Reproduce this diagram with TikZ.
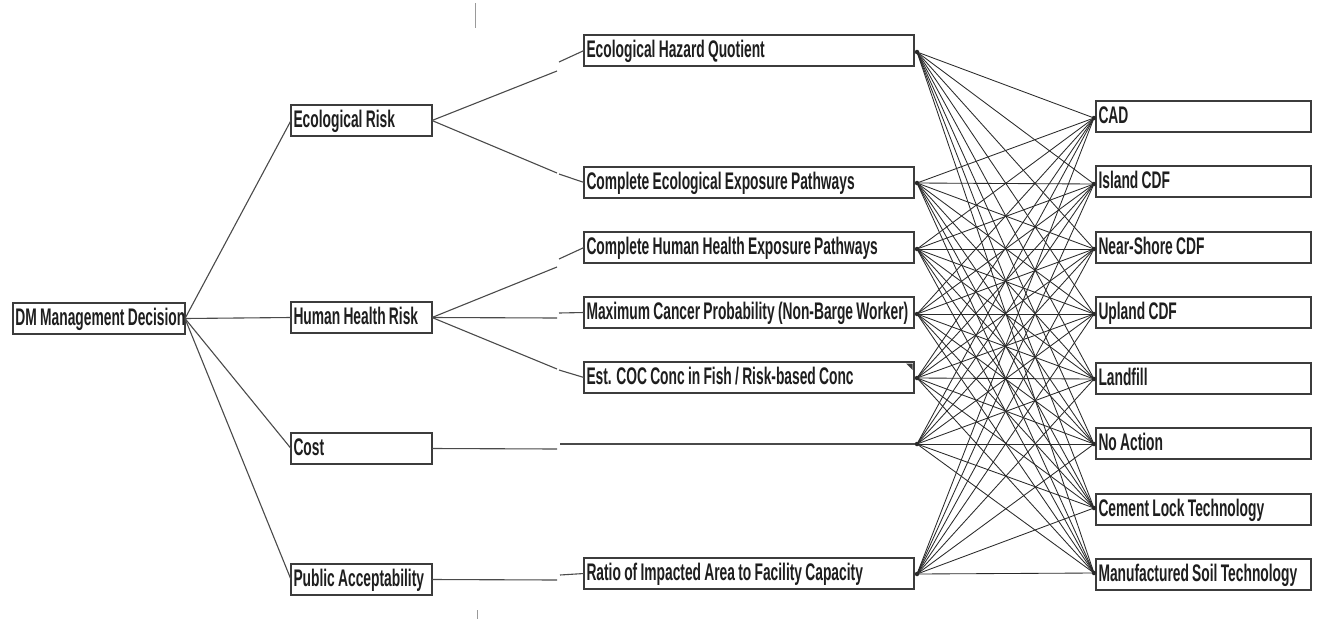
\documentclass[tikz,border=0pt]{standalone}
\usepackage{fontspec}
\newfontfamily\labfont{Liberation Sans}[FakeStretch=0.575,WordSpace=0.85]
\definecolor{boxline}{HTML}{3C3C3C}
\definecolor{labtext}{HTML}{1E1E1E}
\definecolor{linkcol}{HTML}{4A4A4A}
\definecolor{fancol}{HTML}{2A2A2A}
\definecolor{guidecol}{HTML}{9A9A9A}
\begin{document}
\begin{tikzpicture}[x=1pt,y=-1pt,
  box/.style={draw=boxline, line width=1.5pt, rectangle, anchor=north west,
    outer sep=0pt, inner xsep=2.5pt, inner ysep=4pt,
    text height=18.5pt, text depth=4.5pt, text=labtext,
    font=\labfont\bfseries\fontsize{24pt}{27pt}\selectfont},
  % label set on one line, left aligned, in a box of fixed width
  boxwidth/.style={box,
    execute at begin node={\hbox to #1\bgroup},
    execute at end node={\hss\egroup}},
  rootbox/.style={boxwidth=167pt},
  critbox/.style={boxwidth=136pt},
  subbox/.style={boxwidth=325pt},
  altbox/.style={boxwidth=210pt},
  link/.style={draw=linkcol, line width=1.1pt},
  fan/.style={draw=fancol, line width=0.85pt},
  dot/.style={circle, fill=fancol, inner sep=0pt, minimum size=4.5pt},
  guide/.style={draw=guidecol, line width=1pt}
]
\useasboundingbox (0,0) rectangle (1317,619);
\fill[white] (0,0) rectangle (1317,619);

% root
\node[rootbox] (dm) at (13,303) {DM Management Decision};

% criteria
\node[critbox] (eco)  at (291,105) {Ecological Risk};
\node[critbox] (hh)   at (291,302) {Human Health Risk};
\node[critbox] (cost) at (291,433) {Cost};
\node[critbox] (pub)  at (291,564) {Public Acceptability};

% sub-criteria
\node[subbox] (ehq)   at (584,35)  {Ecological Hazard Quotient};
\node[subbox] (ceep)  at (584,167) {Complete Ecological Exposure Pathways};
\node[subbox] (chhep) at (584,232) {Complete Human Health Exposure Pathways};
\node[subbox] (mcp)   at (584,297) {Maximum Cancer Probability (Non-Barge Worker)};
\node[subbox] (est)   at (584,362) {Est. COC Conc in Fish / Risk-based Conc};
\node[subbox] (ratio) at (584,558) {Ratio of Impacted Area to Facility Capacity};
\fill[boxline] (906,363.5) -- (912.5,363.5) -- (912.5,370) -- cycle;

% alternatives
\node[altbox] (cad)   at (1096,101) {CAD};
\node[altbox] (isl)   at (1096,166) {Island CDF};
\node[altbox] (nsc)   at (1096,232) {Near-Shore CDF};
\node[altbox] (upl)   at (1096,297) {Upland CDF};
\node[altbox] (lnd)   at (1096,363) {Landfill};
\node[altbox] (noa)   at (1096,428) {No Action};
\node[altbox] (cem)   at (1096,494) {Cement Lock Technology};
\node[altbox] (msoil) at (1096,559) {Manufactured Soil Technology};

% root to criteria
\draw[link] (dm.east) -- (eco.west);
\draw[link] (dm.east) -- (hh.west);
\draw[link] (dm.east) -- (cost.west);
\draw[link] (dm.east) -- (pub.west);

% criteria to sub-criteria (each link drawn in two pieces)
\coordinate (e1a) at (557,71);  \coordinate (e1b) at (559,62);
\coordinate (e2a) at (557,173); \coordinate (e2b) at (559,174);
\coordinate (h1a) at (557,267); \coordinate (h1b) at (559,259);
\coordinate (h2a) at (557,318); \coordinate (h2b) at (559,313);
\coordinate (h3a) at (557,369); \coordinate (h3b) at (559,370);
\coordinate (c1a) at (557,449); \coordinate (c1b) at (560,444);
\coordinate (p1a) at (557,580); \coordinate (p1b) at (560,575);
\draw[link] (eco.east) -- (e1a); \draw[link] (e1b) -- (ehq.west);
\draw[link] (eco.east) -- (e2a); \draw[link] (e2b) -- (ceep.west);
\draw[link] (hh.east) -- (h1a);  \draw[link] (h1b) -- (chhep.west);
\draw[link] (hh.east) -- (h2a);  \draw[link] (h2b) -- (mcp.west);
\draw[link] (hh.east) -- (h3a);  \draw[link] (h3b) -- (est.west);
\draw[link] (cost.east) -- (c1a);
\draw[link] (pub.east) -- (p1a);  \draw[link] (p1b) -- (ratio.west);

% fan end points
\node[dot] (s1) at (917,52)  {};
\node[dot] (s2) at (917,183) {};
\node[dot] (s3) at (917,249) {};
\node[dot] (s4) at (917,314) {};
\node[dot] (s5) at (917,378) {};
\node[dot] (s6) at (917,444) {};
\node[dot] (s7) at (917,574) {};
\node[dot] (t1) at (1094,118) {};
\node[dot] (t2) at (1094,184) {};
\node[dot] (t3) at (1094,249) {};
\node[dot] (t4) at (1094,314) {};
\node[dot] (t5) at (1094,379) {};
\node[dot] (t6) at (1094,444) {};
\node[dot] (t7) at (1094,508) {};
\node[dot] (t8) at (1094,573) {};
\draw[link] (c1b) -- (s6);

% every sub-criterion to every alternative
\foreach \s in {s1,s2,s3,s4,s5,s6,s7}
  \foreach \t in {t1,t2,t3,t4,t5,t6,t7,t8}
    \draw[fan] (\s.center) -- (\t.center);

% small guide marks
\draw[guide] (475,3) -- (475,28);
\draw[guide] (477,610) -- (477,619);
\end{tikzpicture}
\end{document}
